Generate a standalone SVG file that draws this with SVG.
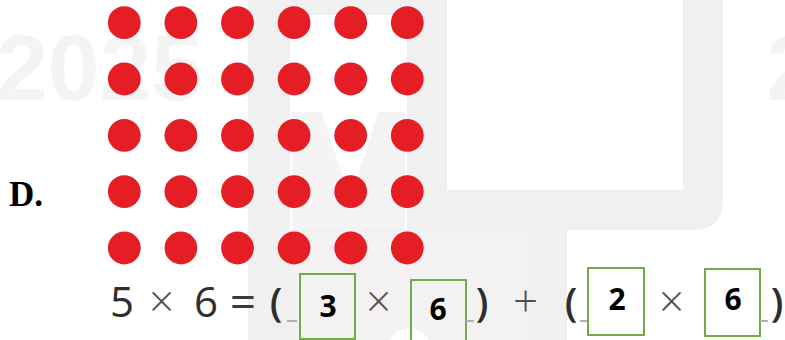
<svg xmlns="http://www.w3.org/2000/svg" width="785" height="340" viewBox="0 0 785 340">
<style>
.wm{fill:#f0f0f0}
.wmt{font-family:"Liberation Sans",Arial,sans-serif;font-weight:bold;font-size:93px;fill:#f4f4f4}
.dot{fill:#e51d25}
.eq{font-family:"Open Sans","Noto Sans",sans-serif;font-size:42px;font-weight:500;fill:#2e2e2e;text-anchor:middle}
.op{font-family:"Open Sans","Noto Sans",sans-serif;font-size:44px;fill:#505050;text-anchor:middle;font-weight:300}
.eqs{font-family:"Open Sans","Noto Sans",sans-serif;font-size:46px;fill:#3a3a3a;text-anchor:middle;font-weight:400}
.par{font-family:"Open Sans","Noto Sans",sans-serif;font-size:40px;fill:#2e2e2e;text-anchor:middle;font-weight:600}
.ans{font-family:"Open Sans","Noto Sans",sans-serif;font-size:30px;font-weight:bold;fill:#000000;text-anchor:middle}
.box{fill:none;stroke:#70ad47;stroke-width:2}
.us{stroke:#b0b0b0;stroke-width:2}
.lbl{font-family:"Liberation Serif","Times New Roman",serif;font-weight:bold;font-size:35px;fill:#000000}
</style>
<rect width="785" height="340" fill="#ffffff"/>
<g id="watermark">
  <text class="wmt" x="-4" y="100">2025</text>
  <text class="wmt" x="766" y="100">2</text>
  <rect class="wm" x="248" y="0" width="42" height="340"/>
  <rect class="wm" x="248" y="0" width="199" height="15"/>
  <rect class="wm" x="407" y="0" width="40" height="230"/>
  <path class="wm" d="M407 190 H683 V0 H723 V200 Q723 230 693 230 H407 Z"/>
  <rect class="wm" x="290" y="230" width="277" height="110"/>
  <rect x="290" y="232" width="237" height="108" fill="#f4f1f2"/>
  <path d="M292 112 L322 112 L350 200 L378 112 L405 112 L405 230 L292 230 Z" fill="#f6f3f4"/>
  <circle cx="409" cy="350" r="22" fill="#ffffff"/>
</g>
<g id="label">
  <text class="lbl" x="9" y="206">D.</text>
</g>
<g id="dots">
  <g id="row1">
    <circle class="dot" cx="124.3" cy="22.7" r="16.4"/>
    <circle class="dot" cx="180.9" cy="22.7" r="16.4"/>
    <circle class="dot" cx="237.5" cy="22.7" r="16.4"/>
    <circle class="dot" cx="294.1" cy="22.7" r="16.4"/>
    <circle class="dot" cx="350.7" cy="22.7" r="16.4"/>
    <circle class="dot" cx="407.3" cy="22.7" r="16.4"/>
  </g>
  <g id="row2">
    <circle class="dot" cx="124.3" cy="79" r="16.4"/>
    <circle class="dot" cx="180.9" cy="79" r="16.4"/>
    <circle class="dot" cx="237.5" cy="79" r="16.4"/>
    <circle class="dot" cx="294.1" cy="79" r="16.4"/>
    <circle class="dot" cx="350.7" cy="79" r="16.4"/>
    <circle class="dot" cx="407.3" cy="79" r="16.4"/>
  </g>
  <g id="row3">
    <circle class="dot" cx="124.3" cy="135.3" r="16.4"/>
    <circle class="dot" cx="180.9" cy="135.3" r="16.4"/>
    <circle class="dot" cx="237.5" cy="135.3" r="16.4"/>
    <circle class="dot" cx="294.1" cy="135.3" r="16.4"/>
    <circle class="dot" cx="350.7" cy="135.3" r="16.4"/>
    <circle class="dot" cx="407.3" cy="135.3" r="16.4"/>
  </g>
  <g id="row4">
    <circle class="dot" cx="124.3" cy="191.6" r="16.4"/>
    <circle class="dot" cx="180.9" cy="191.6" r="16.4"/>
    <circle class="dot" cx="237.5" cy="191.6" r="16.4"/>
    <circle class="dot" cx="294.1" cy="191.6" r="16.4"/>
    <circle class="dot" cx="350.7" cy="191.6" r="16.4"/>
    <circle class="dot" cx="407.3" cy="191.6" r="16.4"/>
  </g>
  <g id="row5">
    <circle class="dot" cx="124.3" cy="248" r="16.4"/>
    <circle class="dot" cx="180.9" cy="248" r="16.4"/>
    <circle class="dot" cx="237.5" cy="248" r="16.4"/>
    <circle class="dot" cx="294.1" cy="248" r="16.4"/>
    <circle class="dot" cx="350.7" cy="248" r="16.4"/>
    <circle class="dot" cx="407.3" cy="248" r="16.4"/>
  </g>
</g>
<g id="equation">
  <text class="eq" x="122" y="317">5</text>
  <text class="op" x="161.5" y="317">×</text>
  <text class="eq" x="206" y="317">6</text>
  <text class="eqs" x="243" y="318">=</text>
  <text class="par" x="276" y="317">(</text>
  <line class="us" x1="287" y1="321" x2="297" y2="321"/>
  <g id="box1"><rect class="box" x="300" y="274" width="55" height="65"/><text class="ans" x="328" y="317">3</text></g>
  <text class="op" x="378.5" y="317">×</text>
  <g id="box2"><rect class="box" x="411" y="280" width="55" height="66"/><text class="ans" x="438" y="320">6</text></g>
  <line class="us" x1="466" y1="321" x2="474" y2="321"/>
  <text class="par" x="482" y="317">)</text>
  <text class="op" x="525.5" y="317">+</text>
  <text class="par" x="571" y="317">(</text>
  <line class="us" x1="580" y1="321" x2="588" y2="321"/>
  <g id="box3"><rect class="box" x="588" y="268" width="56" height="67"/><text class="ans" x="617" y="310">2</text></g>
  <text class="op" x="671.5" y="317">×</text>
  <g id="box4"><rect class="box" x="705" y="269" width="55" height="67"/><text class="ans" x="733" y="310">6</text></g>
  <line class="us" x1="760" y1="321" x2="768" y2="321"/>
  <text class="par" x="777" y="317">)</text>
</g>
</svg>
